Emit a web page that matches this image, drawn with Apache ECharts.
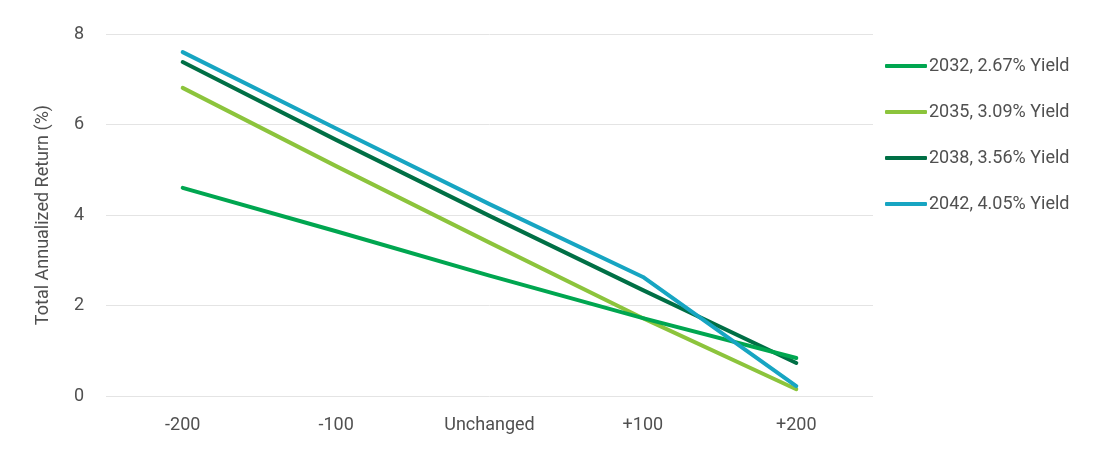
<!DOCTYPE html>
<html>
<head>
<meta charset="utf-8">
<script src="https://cdn.jsdelivr.net/npm/echarts@6/dist/echarts.min.js"></script>
<style>
html,body{margin:0;padding:0;background:#fff;}
#chart{width:1109px;height:450px;}
</style>
</head>
<body>
<div id="chart"></div>
<script>
const categories = ['-200', '-100', 'Unchanged', '+100', '+200'];
const seriesNames = ['2032, 2.67% Yield', '2035, 3.09% Yield', '2038, 3.56% Yield', '2042, 4.05% Yield'];
const s2032 = [4.60, 3.64, 2.66, 1.72, 0.84];
const s2035 = [6.81, 5.08, 3.39, 1.72, 0.15];
const s2038 = [7.38, 5.66, 3.98, 2.34, 0.73];
const s2042 = [7.60, 5.91, 4.24, 2.63, 0.22];
const yTicks = { min: 0, max: 8, interval: 2 };
const colors = ['#00a650', '#8cc43c', '#006f45', '#17a5c2'];

const allData = [s2032, s2035, s2038, s2042];
const chart = echarts.init(document.getElementById('chart'), null, {renderer: 'canvas'});
const textColor = '#505050';
const font = 'Roboto, "Noto Sans", sans-serif';
chart.setOption({
  animation: false,
  color: colors,
  grid: { left: 106, right: 236, top: 34, bottom: 54, containLabel: false },
  legend: {
    orient: 'vertical',
    left: 880,
    top: 51,
    itemWidth: 42,
    itemHeight: 4,
    itemGap: 26,
    icon: 'roundRect',
    textStyle: { color: textColor, fontSize: 18, fontFamily: font, padding: [0,0,0,-3], lineHeight: 20 },
    data: seriesNames
  },
  xAxis: {
    type: 'category',
    data: categories,
    boundaryGap: true,
    axisLine: { show: false },
    axisTick: { show: false },
    axisLabel: { color: textColor, fontSize: 18, fontFamily: font, margin: 20 }
  },
  yAxis: {
    type: 'value',
    min: yTicks.min, max: yTicks.max, interval: yTicks.interval,
    name: 'Total Annualized Return (%)',
    nameLocation: 'middle',
    nameGap: 54,
    nameTextStyle: { color: textColor, fontSize: 18, fontFamily: font },
    axisLine: { show: false },
    axisTick: { show: false },
    axisLabel: { color: textColor, fontSize: 18, fontFamily: font, margin: 22 },
    splitLine: { lineStyle: { color: '#e4e4e4', width: 1 } }
  },
  series: seriesNames.map((n, i) => ({
    name: n,
    type: 'line',
    data: allData[i],
    symbol: 'none',
    lineStyle: { width: 4, color: colors[i], cap: 'round', join: 'round' },
    z: i === 0 ? 5 : 2 + i
  }))
});
</script>
</body>
</html>
